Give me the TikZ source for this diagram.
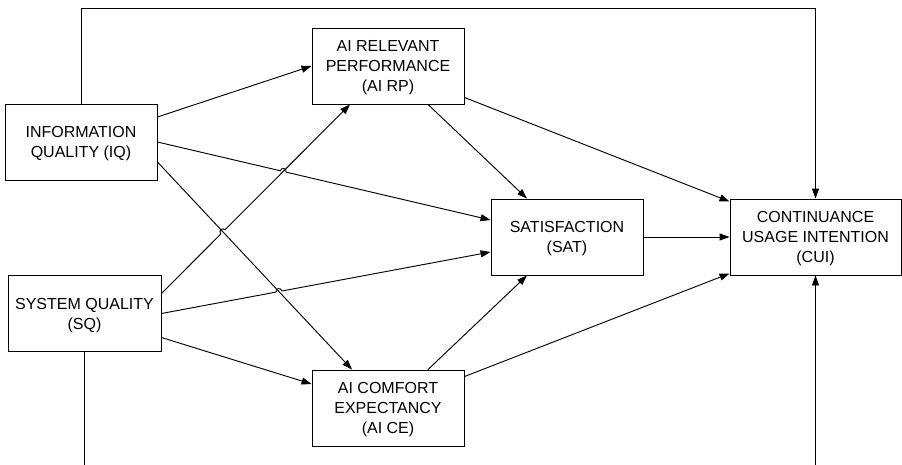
\documentclass[tikz,border=0pt]{standalone}
\usepackage{fontspec}
\setmainfont{Liberation Sans}
\usetikzlibrary{arrows.meta,calc,intersections}

\begin{document}
\begin{tikzpicture}[x=0.75pt,y=-0.75pt,
 box/.style={draw, line width=0.7pt, inner sep=0pt, minimum height=57pt, text depth=-2pt, align=center, font=\fontsize{12}{15}\selectfont},
 conn/.style={line width=0.7pt, -{Triangle[length=7.5pt,width=5.25pt]}},
 hop/.style={bend left=90, looseness=1.7}]
\useasboundingbox (0,0) rectangle (902,464);
\clip (0,0) rectangle (902,464);

\node[box, minimum width=114pt] (iq) at (81,142) {INFORMATION\\QUALITY (IQ)};
\node[box, minimum width=114pt] (rp) at (388,66) {AI RELEVANT\\PERFORMANCE\\(AI RP)};
\node[box, minimum width=114pt] (sat) at (567,237) {SATISFACTION\\(SAT)};
\node[box, minimum width=128.25pt] (cui) at (815.5,237) {CONTINUANCE\\USAGE INTENTION\\(CUI)};
\node[box, minimum width=114.75pt] (sq) at (84.5,313.5) {SYSTEM QUALITY\\(SQ)};
\node[box, minimum width=114pt] (ce) at (388,408) {AI COMFORT\\EXPECTANCY\\(AI CE)};

\coordinate (iqA) at ($(iq.east)+(0,-25)$);
\coordinate (iqC) at ($(iq.east)+(0,20)$);
\coordinate (rpB1) at ($(rp.south)+(-38,0)$);
\coordinate (rpB2) at ($(rp.south)+(40,0)$);
\coordinate (rpE) at ($(rp.south east)+(0,-7)$);
\coordinate (satW1) at ($(sat.west)+(0,-17)$);
\coordinate (satW2) at ($(sat.west)+(0,15)$);
\coordinate (satN) at ($(sat.north)+(-40,0)$);
\coordinate (satS) at ($(sat.south)+(-40,0)$);
\coordinate (cuiW1) at ($(cui.north west)+(0,3)$);
\coordinate (cuiW2) at ($(cui.south west)+(0,-2)$);
\coordinate (sqA) at ($(sq.east)+(0,-20)$);
\coordinate (sqC) at ($(sq.east)+(0,24)$);
\coordinate (ceN1) at ($(ce.north)+(-36,0)$);
\coordinate (ceN2) at ($(ce.north)+(40,0)$);
\coordinate (ceW) at ($(ce.west)+(0,-24)$);
\coordinate (ceE) at ($(ce.north east)+(0,7)$);

\path[name path=iqce] (iqC) -- (ceN1);
\path[name path=sqrp] (sqA) -- (rpB1);
\path[name path=iqsat] (iq.east) -- (satW1);
\path[name path=sqsat] (sq.east) -- (satW2);
\path[name intersections={of=iqce and sqrp, by=x1}];
\path[name intersections={of=iqsat and sqrp, by=x2}];
\path[name intersections={of=iqce and sqsat, by=x3}];

\draw[conn] (iqA) -- (rp.west);
\draw[conn] (iq.east) -- ($(x2)!2.25pt!(iq.east)$) to[hop] ($(x2)!2.25pt!(satW1)$) -- (satW1);
\draw[conn] (iqC) -- (ceN1);
\draw[conn] (iq.north) -- ++(0,-95) -| (cui.north);
\draw[conn] (sqA) -- ($(x1)!2.25pt!(sqA)$) to[hop] ($(x1)!2.25pt!(rpB1)$) -- (rpB1);
\draw[conn] (sq.east) -- ($(x3)!2.25pt!(sq.east)$) to[hop] ($(x3)!2.25pt!(satW2)$) -- (satW2);
\draw[conn] (sqC) -- (ceW);
\draw[conn] (sq.south) -- ++(0,130) -| (cui.south);
\draw[conn] (rpB2) -- (satN);
\draw[conn] (rpE) -- (cuiW1);
\draw[conn] (sat.east) -- (cui.west);
\draw[conn] (ceN2) -- (satS);
\draw[conn] (ceE) -- (cuiW2);
\end{tikzpicture}
\end{document}
